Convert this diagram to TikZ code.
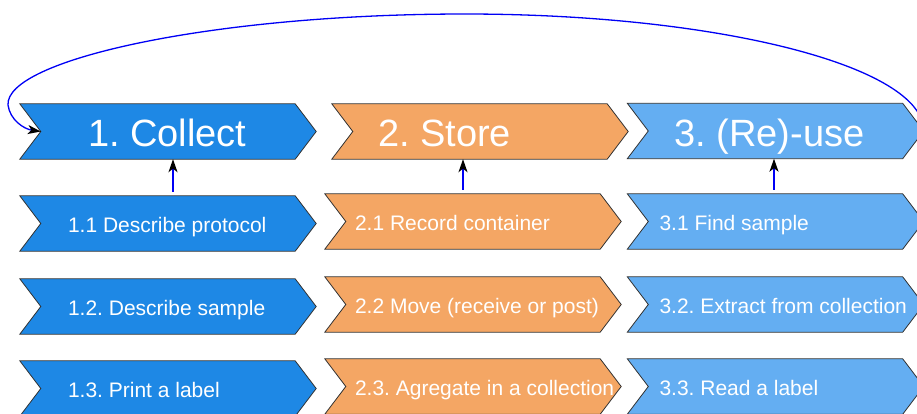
\documentclass[tikz,border=0pt]{standalone}
\usepackage{fontspec}
\setmainfont{Liberation Sans}
\usetikzlibrary{arrows.meta}
\frenchspacing
\pgfdeclarelayer{background}
\pgfsetlayers{background,main}
\definecolor{cblue}{RGB}{30,136,229}
\definecolor{corange}{RGB}{244,166,100}
\definecolor{clight}{RGB}{100,174,242}
\definecolor{cedge}{RGB}{50,50,50}
\definecolor{clink}{RGB}{0,0,245}
\tikzset{
 chevbox/.style={rectangle, minimum width=296pt, minimum height=55pt, inner sep=0pt, text=white},
 headtext/.style={font=\fontsize{38}{40}\selectfont, text height=30pt, text depth=0pt},
 subtext/.style={font=\fontsize{21}{24}\selectfont, text height=18pt, text depth=0pt},
 chevfill/.style={draw=cedge, line width=0.8pt, line join=miter},
 link/.style={draw=clink, line width=1.3pt, -{Stealth[color=black,length=13pt,width=9pt,inset=3.5pt]}},
}
\newcommand\chev[6]{%
  \pgfmathsetmacro\tw{296-2*#5}%
  \node[chevbox,#4] (#1) at (#2) {\makebox[\tw pt][l]{#6}};
  \begin{pgfonlayer}{background}
  \filldraw[chevfill, fill=#3] (#1.north west) -- ([xshift=-21pt]#1.north east) -- (#1.east) -- ([xshift=-21pt]#1.south east) -- (#1.south west) -- ([xshift=21pt]#1.west) -- cycle;
  \end{pgfonlayer}
}
\begin{document}
\begin{tikzpicture}[x=1pt,y=-1pt]
\useasboundingbox (0,0) rectangle (917,413);
% headers
\chev{h1}{168,131.5}{cblue}{headtext}{68}{1. Collect}
\chev{h2}{480,131.5}{corange}{headtext}{46}{2. Store}
\chev{h3}{775.5,131}{clight}{headtext}{47}{3. (Re)-use}
% column 1
\chev{s11}{168,223.5}{cblue}{subtext}{48}{1.1 Describe protocol}
\chev{s12}{168,306.5}{cblue}{subtext}{48}{1.2. Describe sample}
\chev{s13}{168,388.5}{cblue}{subtext}{48}{1.3. Print a label}
% column 2
\chev{s21}{473,221.5}{corange}{subtext}{30}{2.1 Record container}
\chev{s22}{473,304.5}{corange}{subtext}{30}{2.2 Move (receive or post)}
\chev{s23}{473,386.5}{corange}{subtext}{30}{2.3. Agregate in a collection}
% column 3
\chev{s31}{775.5,221.5}{clight}{subtext}{32}{3.1 Find sample}
\chev{s32}{775.5,304.5}{clight}{subtext}{32}{3.2. Extract from collection}
\chev{s33}{775.5,386.5}{clight}{subtext}{32}{3.3. Read a label}
% arrows
\draw[link, shorten <=4pt] ([xshift=5pt]s11.north) -- ([xshift=5pt]s11.north |- h1.south);
\draw[link, shorten <=4pt] ([xshift=-10pt]s21.north) -- ([xshift=-10pt]s21.north |- h2.south);
\draw[link, shorten <=4pt] ([xshift=-1.5pt]s31.north) -- ([xshift=-1.5pt]s31.north |- h3.south);
\draw[link] (h3.east) .. controls +(0,-65) and (717,14) .. (465,14)
  .. controls (212,14) and (5,60) .. (8,105)
  .. controls (10,120) and (24,129) .. ([xshift=21pt]h1.west);
\end{tikzpicture}
\end{document}
